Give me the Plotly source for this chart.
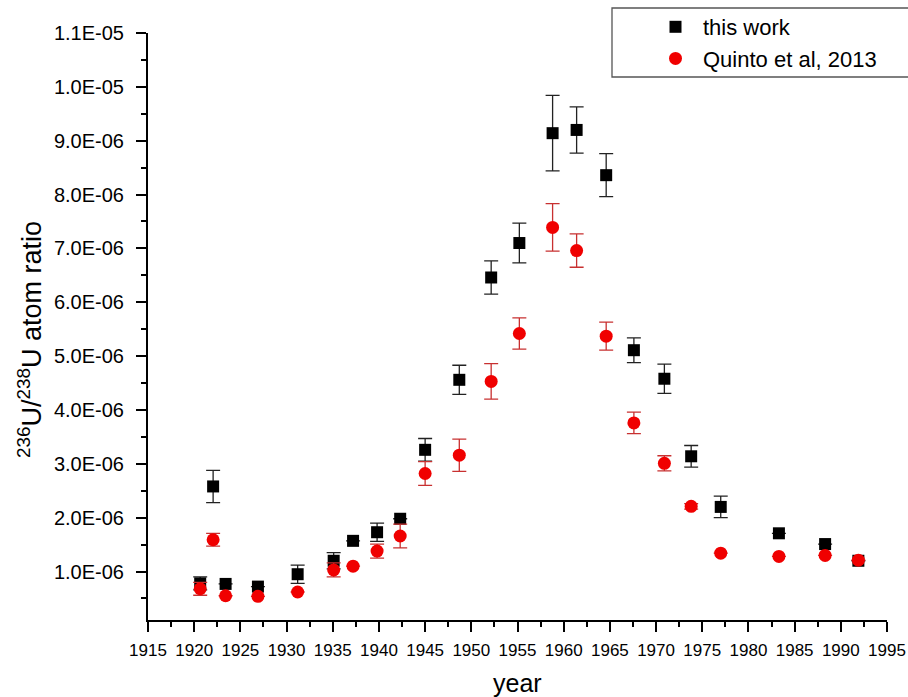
import plotly.graph_objects as go

# ---- data (values in units of 1E-06) ----
years = [1920.65, 1922.05, 1923.4, 1926.9, 1931.2, 1935.1, 1937.2, 1939.8, 1942.3,
         1945.0, 1948.7, 1952.15, 1955.2, 1958.8, 1961.4, 1964.6, 1967.6, 1970.9,
         1973.8, 1977.0, 1983.3, 1988.3, 1991.9]

this_work = [0.78, 2.58, 0.77, 0.72, 0.95, 1.20, 1.57, 1.73, 1.98,
             3.26, 4.56, 6.46, 7.10, 9.14, 9.20, 8.36, 5.11, 4.58,
             3.14, 2.20, 1.71, 1.51, 1.20]
this_work_err = [0.12, 0.30, 0.0, 0.0, 0.17, 0.15, 0.0, 0.17, 0.0,
                 0.21, 0.27, 0.31, 0.37, 0.70, 0.43, 0.40, 0.23, 0.27,
                 0.20, 0.20, 0.0, 0.0, 0.0]

quinto = [0.68, 1.59, 0.55, 0.54, 0.62, 1.03, 1.10, 1.38, 1.66,
          2.82, 3.16, 4.53, 5.42, 7.39, 6.96, 5.37, 3.76, 3.01,
          2.21, 1.34, 1.28, 1.30, 1.21]
quinto_err = [0.12, 0.12, 0.0, 0.0, 0.0, 0.13, 0.0, 0.13, 0.22,
              0.22, 0.30, 0.33, 0.29, 0.44, 0.31, 0.26, 0.20, 0.14,
              0.05, 0.0, 0.0, 0.0, 0.0]

series_names = ["this work", "Quinto et al, 2013"]

y_tick_vals = [1, 2, 3, 4, 5, 6, 7, 8, 9, 10, 11]
y_tick_text = ["1.0E-06", "2.0E-06", "3.0E-06", "4.0E-06", "5.0E-06", "6.0E-06",
               "7.0E-06", "8.0E-06", "9.0E-06", "1.0E-05", "1.1E-05"]

scale = 1e-6
tw = [v * scale for v in this_work]
twe = [v * scale for v in this_work_err]
qu = [v * scale for v in quinto]
que = [v * scale for v in quinto_err]

fig = go.Figure()
fig.add_trace(go.Scatter(
    x=years, y=tw, mode="markers", name=series_names[0],
    marker=dict(symbol="square", size=12, color="#000000"),
    error_y=dict(type="data", array=twe, visible=True, color="#222222",
                 thickness=1.3, width=7),
))
fig.add_trace(go.Scatter(
    x=years, y=qu, mode="markers", name=series_names[1],
    marker=dict(symbol="circle", size=13, color="#f00000"),
    error_y=dict(type="data", array=que, visible=True, color="#c83030",
                 thickness=1.3, width=7),
))

W, H = 908, 697
L, T = 148, 33
R = W - 887
B = H - 620
pw = W - L - R
ph = H - T - B

def px_x(p):
    return (p - L) / pw

def px_y(p):
    return (H - B - p) / ph

sans = "Liberation Sans, Arial, sans-serif"

fig.update_layout(
    width=W, height=H,
    paper_bgcolor="white", plot_bgcolor="white",
    margin=dict(l=L, r=R, t=T, b=B, autoexpand=False),
    showlegend=True,
    legend=dict(x=px_x(648), y=px_y(6), xanchor="left", yanchor="top",
                borderwidth=0, bgcolor="rgba(0,0,0,0)",
                font=dict(family=sans, size=22, color="#000"),
                itemwidth=45, tracegroupgap=0),
    shapes=[dict(type="rect", xref="paper", yref="paper",
                 x0=px_x(612), x1=px_x(930), y0=px_y(77), y1=px_y(8),
                 line=dict(color="#555", width=1.3), fillcolor="rgba(0,0,0,0)", layer="above")],
    xaxis=dict(range=[1915, 1995], tickmode="linear", tick0=1915, dtick=5,
               showgrid=False, zeroline=False, showline=True, linecolor="black",
               linewidth=2, ticks="outside", ticklen=10, tickwidth=2, tickcolor="black",
               ticklabelstandoff=4, ticklabeloverflow="allow",
               tickfont=dict(family=sans, size=17, color="#000"),
               minor=dict(tickmode="linear", tick0=1915, dtick=2.5, ticks="outside",
                          ticklen=5, tickwidth=2, tickcolor="black", showgrid=False)),
    yaxis=dict(range=[0.1e-6, 1.1e-5], tickmode="array", tickvals=[v * scale for v in y_tick_vals],
               ticktext=y_tick_text,
               showgrid=False, zeroline=False, showline=True, linecolor="black",
               linewidth=2, ticks="outside", ticklen=10, tickwidth=2, tickcolor="black",
               ticklabelstandoff=8,
               tickfont=dict(family=sans, size=20, color="#000"),
               minor=dict(tickmode="linear", tick0=0, dtick=0.5e-6, ticks="outside",
                          ticklen=5, tickwidth=2, tickcolor="black", showgrid=False)),
    annotations=[
        dict(text="<sup>236</sup>U/<sup>238</sup>U atom ratio", xref="paper", yref="paper",
             x=px_x(30), y=px_y(340), xanchor="center", yanchor="middle", textangle=-90,
             showarrow=False, font=dict(family=sans, size=27, color="#000")),
        dict(text="year", xref="paper", yref="paper", x=0.5, y=px_y(683), xanchor="center",
             yanchor="middle", showarrow=False,
             font=dict(family=sans, size=25, color="#000")),
    ],
)

fig.write_html(
    "out.html",
    config={"displayModeBar": False},
    post_script="document.body.style.margin='0';document.body.style.overflow='hidden';",
)
